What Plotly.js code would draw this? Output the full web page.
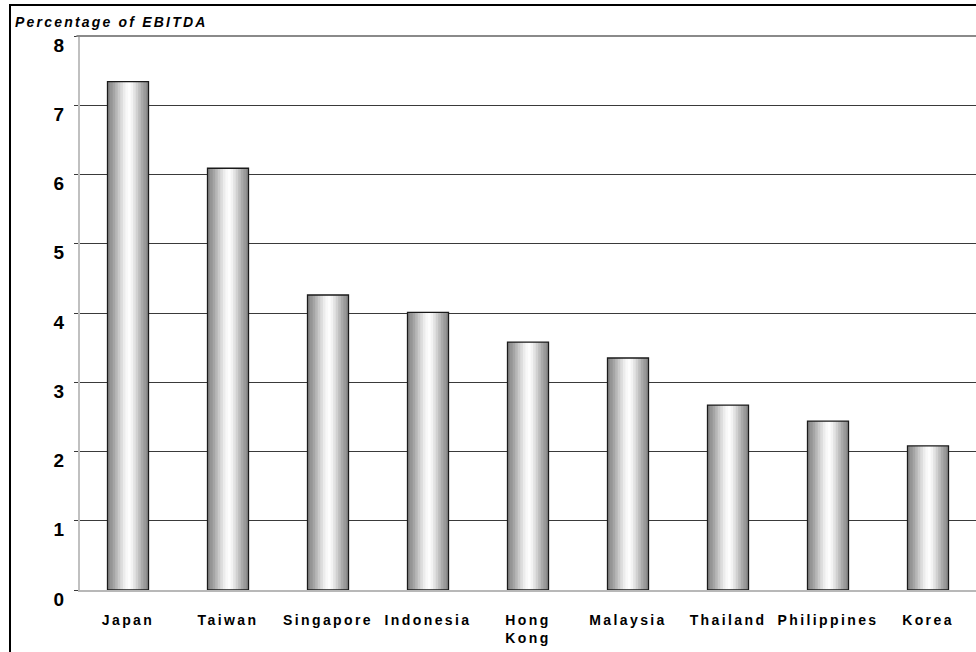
<!DOCTYPE html>
<html>
<head>
<meta charset="utf-8">
<script src="https://cdn.plot.ly/plotly-3.0.1.min.js"></script>
<style>
  html, body { margin: 0; padding: 0; background: #fff; }
  #chart { width: 976px; height: 652px; }
  .xtick text { letter-spacing: 2.4px; }
  .gtitle { letter-spacing: 2.2px; }
</style>
</head>
<body>
<div id="chart"></div>
<script>
// ---- data ----
const categories = ['Japan', 'Taiwan', 'Singapore', 'Indonesia', 'Hong<br>Kong', 'Malaysia', 'Thailand', 'Philippines', 'Korea'];
const values = [7.34, 6.09, 4.26, 4.01, 3.58, 3.35, 2.67, 2.44, 2.08];
const yTickVals = [0, 1, 2, 3, 4, 5, 6, 7, 8];
const yTickText = ['0', '1', '2', '3', '4', '5', '6', '7', '8'];
const yTitle = 'Percentage of EBITDA';

// ---- style (cylinder shading stripes, left to right) ----
const shades = ['#888888', '#959595', '#a5a5a5', '#b7b7b7', '#cacaca', '#dcdcdc', '#ececec', '#f8f8f8', '#fdfdfd', '#f3f3f3', '#e3e3e3', '#d0d0d0', '#bdbdbd', '#aaaaaa', '#9a9a9a', '#8c8c8c'];
const barW = 0.41;
const n = shades.length;
const sw = barW / n;

const traces = shades.map((c, i) => ({
  type: 'bar',
  x: categories,
  y: values,
  width: i === n - 1 ? sw : sw * 1.5,
  offset: -barW / 2 + i * sw,
  marker: { color: c, line: { width: 0 } },
  hoverinfo: 'skip',
  showlegend: false
}));
traces.push({
  type: 'bar',
  x: categories,
  y: values,
  width: barW,
  offset: -barW / 2,
  marker: { color: 'rgba(0,0,0,0)', line: { color: '#1a1a1a', width: 1.3 } },
  hovertemplate: '%{x}: %{y}<extra></extra>',
  showlegend: false
});

const layout = {
  width: 976,
  height: 652,
  margin: { l: 80, r: 0, t: 36, b: 62 },
  paper_bgcolor: '#ffffff',
  plot_bgcolor: '#ffffff',
  barmode: 'overlay',
  font: { family: 'Liberation Sans, Arial, sans-serif', color: '#000' },
  title: {
    text: yTitle,
    x: 15 / 976, xanchor: 'left', xref: 'container',
    y: 1 - 22.5 / 652, yanchor: 'middle', yref: 'container',
    font: { size: 14, weight: 700, style: 'italic', color: '#000' }
  },
  xaxis: {
    type: 'category',
    range: [-0.48, 8.48],
    showgrid: false,
    showline: true, linecolor: '#b8b8b8', linewidth: 2,
    ticks: '',
    tickfont: { size: 14, weight: 700, color: '#000' },
    ticklabelstandoff: 16,
    zeroline: false,
    fixedrange: true
  },
  yaxis: {
    range: [0, 8],
    tickvals: yTickVals,
    ticktext: yTickText,
    showgrid: true, gridcolor: '#3a3a3a', gridwidth: 1,
    showline: true, linecolor: '#c0c0c0', linewidth: 2,
    ticks: 'outside', ticklen: 4, tickcolor: '#3a3a3a', tickwidth: 1,
    tickfont: { size: 19, weight: 700, color: '#000' },
    ticklabelshift: 9,
    ticklabelstandoff: 6,
    zeroline: false,
    fixedrange: true
  },
  shapes: [
    { type: 'line', xref: 'paper', yref: 'paper', x0: -0.004, x1: 1.01, y0: 1, y1: 1,
      line: { color: '#8a8a8a', width: 2 } },
    { type: 'rect', xref: 'paper', yref: 'paper',
      x0: (10 - 80) / 896, x1: 1.02, y0: -0.2, y1: 1 + 31 / 554,
      line: { color: '#000', width: 2 }, fillcolor: 'rgba(0,0,0,0)' }
  ]
};

Plotly.newPlot('chart', traces, layout, { displayModeBar: false });
</script>
</body>
</html>
